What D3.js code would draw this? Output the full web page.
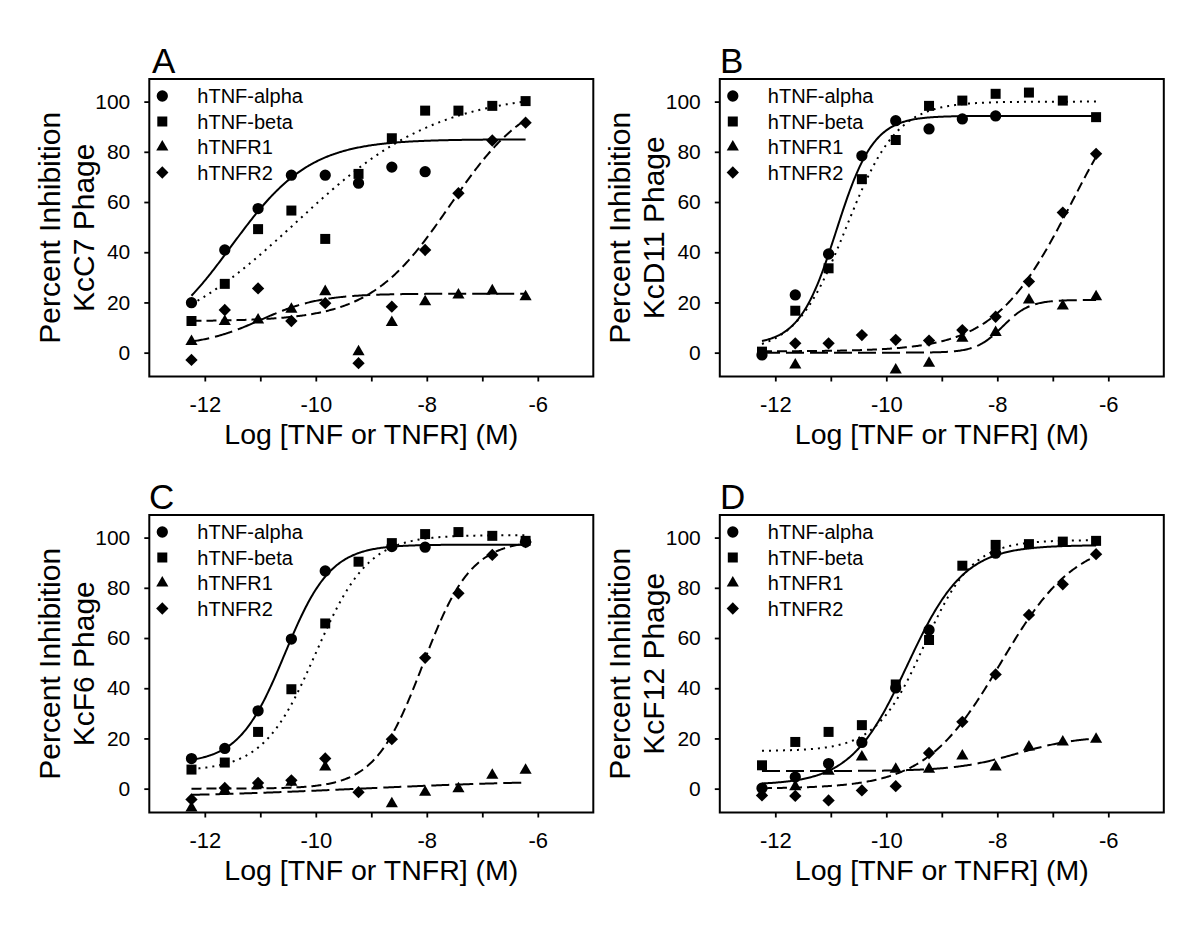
<!DOCTYPE html>
<html><head><meta charset="utf-8">
<script src="https://cdn.jsdelivr.net/npm/d3@7"></script>
<style>
body{margin:0;background:#fff;}
text{font-family: Arial, "Liberation Sans", Helvetica, sans-serif; fill:#000;}
</style>
</head><body>
<svg id="chart" width="1200" height="927"></svg>
<script>
// ---------- data ----------
const xLog = [-12.24, -11.64, -11.04, -10.44, -9.83, -9.23, -8.63, -8.03, -7.43, -6.82, -6.22];
const seriesNames = ["hTNF-alpha", "hTNF-beta", "hTNFR1", "hTNFR2"];
const panelLetters = ["A", "B", "C", "D"];
const phageNames = ["KcC7 Phage", "KcD11 Phage", "KcF6 Phage", "KcF12 Phage"];
const yTicks = [0, 20, 40, 60, 80, 100];
const xTicks = [-12, -11, -10, -9, -8, -7, -6];
const xTickLabels = ["-12", "", "-10", "", "-8", "", "-6"];
const yTitle = "Percent Inhibition";
const xTitle = "Log [TNF or TNFR] (M)";

// Panel A (KcC7)
const alphaA = [19.9, 40.9, 57.4, 70.7, 70.7, 67.5, 73.9, 72.1, null, null, null];
const betaA  = [12.6, 27.4, 49.2, 56.6, 45.3, 71.2, 85.4, 96.4, 96.4, 98.3, 100.2];
const r1A    = [4.4, 12.4, 13.0, 17.3, 24.3, 0.4, 12.0, 20.3, 23.0, 24.6, 22.3];
const r2A    = [-2.9, 17.0, 25.6, 12.6, 19.7, -4.2, 18.3, 40.9, 63.5, 84.5, 91.6];
// Panel B (KcD11)
const alphaB = [-0.9, 23.0, 39.3, 78.4, 92.4, 89.1, 93.1, 94.3, null, null, null];
const betaB  = [0.4, 16.7, 33.6, 69.1, 84.7, 98.3, 100.4, 103.1, 103.6, 100.4, 93.8];
const r1B    = [null, -4.9, null, null, -6.9, -4.2, 5.7, 8.0, 21.0, 18.6, 22.3];
const r2B    = [null, 3.7, 3.7, 7.0, 5.1, 4.8, 9.0, 14.3, 28.3, 55.8, 79.2];
// Panel C (KcF6)
const alphaC = [12.0, 16.0, 31.0, 59.6, 86.7, null, 96.4, 96.2, null, null, 98.2];
const betaC  = [7.6, 10.4, 22.6, 39.6, 65.8, 90.4, 97.8, 101.4, 102.2, 100.7, 98.7];
const r1C    = [-7.7, -0.7, 1.6, 2.6, 8.6, null, -6.0, -1.4, 0.0, 5.3, 7.3];
const r2C    = [-4.3, 0.3, 2.3, 3.3, 12.0, -1.4, 19.7, 52.1, 77.8, 93.1, 98.2];
// Panel D (KcF12)
const alphaD = [0.2, 4.6, 10.0, 18.4, 40.1, 63.2, null, 93.8, null, null, null];
const betaD  = [9.3, 18.6, 22.6, 25.3, 41.5, 59.2, 88.8, 97.1, 97.4, 98.4, 98.7];
const r1D    = [null, 0.8, 6.9, 12.6, 7.7, 7.7, 13.0, 8.6, 16.6, 18.6, 19.7];
const r2D    = [-2.7, -2.9, -4.7, -0.7, 1.0, 14.2, 26.6, 45.5, 69.2, 81.4, 93.4];

// Fitted four-parameter logistic curves: [bottom, top, logEC50, hill]
const fitsA = [[0, 85, -11.52, 0.61], [0, 104, -10.35, 0.34], [2.5, 23.5, -11.0, 0.8], [12.5, 105, -7.58, 0.6]];
const fitsB = [[3, 94.3, -10.9, 1.3], [0, 100, -10.72, 0.95], [0, 21, -7.9, 1.8], [0.5, 120, -6.65, 0.62]];
const fitsC = [[10, 97.2, -10.56, 1.05], [7, 101, -10.0, 0.92], [-3.5, 3.5, -9.2, 0.25], [0, 99, -8.07, 1.0]];
const fitsD = [[1.5, 97, -9.62, 0.85], [15, 99, -9.32, 1.0], [7, 21, -7.64, 0.78], [0, 100, -7.94, 0.64]];

// ---------- drawing ----------
const panels = [
  {data: [alphaA, betaA, r1A, r2A], fits: fitsA, col: 0, row: 0},
  {data: [alphaB, betaB, r1B, r2B], fits: fitsB, col: 1, row: 0},
  {data: [alphaC, betaC, r1C, r2C], fits: fitsC, col: 0, row: 1},
  {data: [alphaD, betaD, r1D, r2D], fits: fitsD, col: 1, row: 1}
];
const colX = [149.3, 719.8];
const rowY = [79, 515];
const letterX = [152, 720];
const pw = 444, ph = 297.5;

const dashes = [null, "2,5", "18,6", "10,5"];
const symbolGen = [
  d3.symbol().type(d3.symbolCircle).size(100),
  d3.symbol().type(d3.symbolSquare).size(100),
  d3.symbol().type(d3.symbolTriangle).size(64),
  d3.symbol().type(d3.symbolSquare).size(76)
];
const symbolRot = [0, 0, 0, 45];

const svg = d3.select("#chart");

panels.forEach((p, pi) => {
  const x0 = colX[p.col], y0 = rowY[p.row];
  const x = d3.scaleLinear().domain([-13, -5]).range([x0, x0 + pw]);
  const y = d3.scaleLinear().domain([-9.5, 109]).range([y0 + ph, y0]);
  const g = svg.append("g");

  // panel letter
  g.append("text").attr("x", letterX[p.col] + (pi === 2 ? -3 : 0)).attr("y", y0 - 6)
    .attr("font-size", 35).text(panelLetters[pi]);

  // y axis
  const ya = g.append("g").attr("transform", `translate(${x0},0)`)
    .call(d3.axisLeft(y).tickValues(yTicks).tickSize(5).tickPadding(14));
  ya.select(".domain").remove();
  ya.selectAll("line").attr("stroke", "#000").attr("stroke-width", 1.8);
  ya.selectAll("text").attr("font-size", 21).attr("font-family", "Arial, 'Liberation Sans', sans-serif");

  // x axis
  const xa = g.append("g").attr("transform", `translate(0,${y0 + ph})`)
    .call(d3.axisBottom(x).tickValues(xTicks).tickFormat((d, i) => xTickLabels[i]).tickSize(5).tickPadding(15));
  xa.select(".domain").remove();
  xa.selectAll("line").attr("stroke", "#000").attr("stroke-width", 1.8);
  xa.selectAll("text").attr("font-size", 22).attr("font-family", "Arial, 'Liberation Sans', sans-serif");

  // frame
  g.append("rect").attr("x", x0).attr("y", y0).attr("width", pw).attr("height", ph)
    .attr("fill", "none").attr("stroke", "#000").attr("stroke-width", 2);

  // axis titles
  const cy = y0 + ph / 2;
  g.append("text").attr("transform", `translate(${x0 - 89.5},${cy}) rotate(-90)`)
    .attr("text-anchor", "middle").attr("font-size", 30).text(yTitle);
  g.append("text").attr("transform", `translate(${x0 - 55.5},${cy}) rotate(-90)`)
    .attr("text-anchor", "middle").attr("font-size", 30).text(phageNames[pi]);
  g.append("text").attr("x", x0 + pw / 2).attr("y", y0 + ph + 67.5)
    .attr("text-anchor", "middle").attr("font-size", 28.5).text(xTitle);

  // fitted curves
  const xs = d3.range(xLog[0], xLog[xLog.length - 1] + 0.0001, 0.02);
  const line = d3.line().x(d => x(d[0])).y(d => y(d[1]));
  p.fits.forEach((f, si) => {
    const [b, t, ec, h] = f;
    const pts = xs.map(v => [v, b + (t - b) / (1 + Math.pow(10, (ec - v) * h))]);
    g.append("path").datum(pts).attr("d", line).attr("fill", "none")
      .attr("stroke", "#000").attr("stroke-width", 2)
      .attr("stroke-dasharray", dashes[si]);
  });

  // data markers
  p.data.forEach((vals, si) => {
    const pts = vals.map((v, i) => [xLog[i], v]).filter(d => d[1] !== null);
    g.selectAll(null).data(pts).enter().append("path")
      .attr("d", symbolGen[si]())
      .attr("transform", d => `translate(${x(d[0])},${y(d[1])}) rotate(${symbolRot[si]})`)
      .attr("fill", "#000");
  });

  // legend
  seriesNames.forEach((name, si) => {
    const ly = y0 + 17 + 25.5 * si;
    g.append("path").attr("d", symbolGen[si]())
      .attr("transform", `translate(${x0 + 13},${ly}) rotate(${symbolRot[si]})`)
      .attr("fill", "#000");
    g.append("text").attr("x", x0 + 48).attr("y", ly + 7)
      .attr("font-size", 20).text(name);
  });
});
</script>
</body></html>
